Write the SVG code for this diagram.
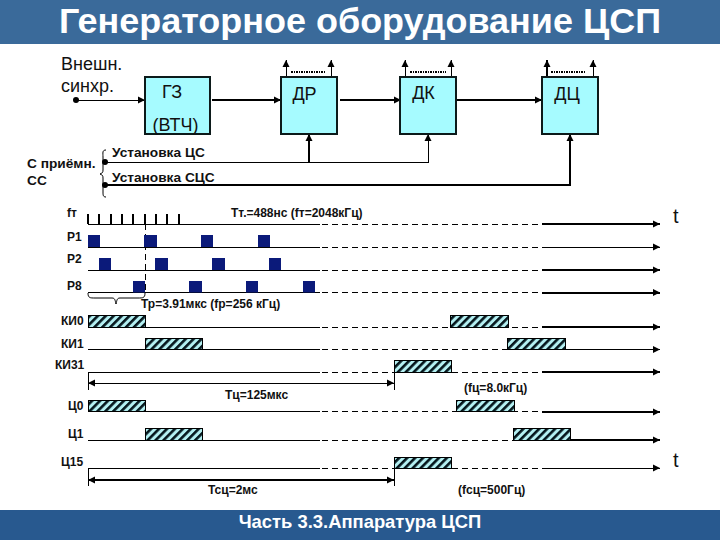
<svg xmlns="http://www.w3.org/2000/svg" width="720" height="540" viewBox="0 0 720 540">
<style>
.lb{font-family:"Liberation Sans",Arial,sans-serif;fill:#111;font-weight:bold;font-size:12px}
.lg{font-size:13.700px}
.big{font-family:"Liberation Sans",Arial,sans-serif;fill:#111;font-size:18px}
.box{fill:#a6fbff;stroke:#0c1a1a;stroke-width:2}
.thin{fill:none;stroke:#000;stroke-width:1;shape-rendering:crispEdges}
.thick{fill:none;stroke:#000;stroke-width:2;shape-rendering:crispEdges}
.med{fill:none;stroke:#000;stroke-width:2;shape-rendering:crispEdges}
.dash{fill:none;stroke:#000;stroke-width:1;stroke-dasharray:6 4;shape-rendering:crispEdges}
.pulse{fill:#0b1a7a}
.hatch{fill:url(#h);stroke:#000;stroke-width:1;shape-rendering:crispEdges}
.dots{fill:none;stroke:#000;stroke-width:2;stroke-dasharray:1.500 1;shape-rendering:crispEdges}
.curve{fill:none;stroke:#000;stroke-width:1}
</style>
<defs>
<marker id="a" markerUnits="userSpaceOnUse" markerWidth="8" markerHeight="8" refX="7" refY="4" orient="auto"><path d="M0 0.5L7 4L0 7.500z" fill="#000"/></marker>
<pattern id="h" patternUnits="userSpaceOnUse" width="5.600" height="5.600" patternTransform="rotate(45)"><rect width="5.600" height="5.600" fill="#b4f0f2"/><rect width="2.600" height="5.600" fill="#05161c"/></pattern>
</defs>
<rect width="720" height="44" fill="#3a6a9a"/>
<rect y="510" width="720" height="30" fill="#28598f"/>
<text x="360" y="33" text-anchor="middle" font-family="Liberation Sans, Arial, sans-serif" font-size="35" font-weight="bold" fill="#fff" id="title" textLength="602" lengthAdjust="spacingAndGlyphs">Генераторное оборудование ЦСП</text>
<text x="360" y="528" text-anchor="middle" font-family="Liberation Sans, Arial, sans-serif" font-size="18.400" font-weight="bold" fill="#fff" id="footer">Часть 3.3.Аппаратура ЦСП</text>
<g id="connectors">
<path class="thin" d="M76 100H145" marker-end="url(#a)"/>
<path class="thick" d="M212 100H281" marker-end="url(#a)"/>
<path class="thick" d="M340 100H401" marker-end="url(#a)"/>
<path class="thick" d="M457 100H542" marker-end="url(#a)"/>
<path class="thin" d="M105 162H428V134" marker-end="url(#a)"/>
<path class="med" d="M309 162V134" marker-end="url(#a)"/>
<path class="thick" d="M105 185H570V134" marker-end="url(#a)"/>
<g class="up">
<path class="thin" d="M286 76V60" marker-end="url(#a)"/><path class="thin" d="M331 76V60" marker-end="url(#a)"/>
<path class="thin" d="M405 76V60" marker-end="url(#a)"/><path class="thin" d="M451 76V60" marker-end="url(#a)"/>
<path class="med" d="M547 76V60" marker-end="url(#a)"/><path class="thin" d="M593 76V60" marker-end="url(#a)"/>
<path class="dots" d="M291 72H326M410 72H446M551 72H586"/>
</g>
<circle cx="76" cy="100" r="3" fill="#000"/><circle cx="105" cy="162" r="3" fill="#000"/><circle cx="105" cy="185" r="3" fill="#000"/>
<path class="curve" d="M106 150C102 150 103 153 103 157V170C103 173 102 173 100 174C102 175 103 175 103 178V192C103 195 103 197 106 197"/>
<path class="thin" d="M88 224H320M88 247H320M88 270H320M88 292.500H320M88 327H320M88 349.500H320M88 372H320M88 411H320M88 440H320M88 468H320"/>
<path class="dash" d="M322 224H542M322 247H542M322 270H542M322 292.500H542M322 327H542M322 349.500H507M322 372H542M322 411H542M322 440H542M322 468H542"/>
<path class="thick" d="M542 224H660" marker-end="url(#a)"/>
<path class="thin" d="M542 247H660" marker-end="url(#a)"/>
<path class="thick" d="M542 270H660" marker-end="url(#a)"/>
<path class="thick" d="M542 292.500H660" marker-end="url(#a)"/>
<path class="thick" d="M542 327H660" marker-end="url(#a)"/>
<path class="thin" d="M565 349.500H660" marker-end="url(#a)"/>
<path class="thick" d="M542 372H660" marker-end="url(#a)"/>
<path class="thick" d="M542 412H660" marker-end="url(#a)"/>
<path class="thick" d="M570 440H660" marker-end="url(#a)"/>
<path class="thin" d="M542 468H660" marker-end="url(#a)"/>
<path class="thin" d="M88 214V224M99 214V224M111 214V224M122 214V224M133 214V224M145 214V224M156 214V224M167 214V224M179 214V224" style="stroke-width:1.500"/>
<path class="dash" d="M145 224V292"/>
<path class="curve" d="M88 293C88 298 90 298 95 298H112C115 298 115 300 116 304C117 300 117 298 120 298H138C143 298 145 298 145 293"/>
<path class="thin" d="M88 372V390M394 372V390M88 468V486M394 468V486"/>
<path class="thin" d="M394 383H88" marker-end="url(#a)"/>
<path class="thin" d="M88 383H394" marker-end="url(#a)"/>
<path class="thick" d="M394 480H88" marker-end="url(#a)"/>
<path class="thick" d="M88 480H394" marker-end="url(#a)"/>
</g>
<g id="gz"><rect class="box" x="145" y="77" width="65" height="57"/><text class="big" x="172" y="98" text-anchor="middle">ГЗ</text><text class="big" x="175.500" y="131" text-anchor="middle">(ВТЧ)</text></g>
<g id="dr"><rect class="box" x="281" y="77" width="56" height="57"/><text class="big" x="304.500" y="100" text-anchor="middle">ДР</text></g>
<g id="dk"><rect class="box" x="400" y="77" width="56" height="57"/><text class="big" x="423.500" y="99" text-anchor="middle">ДК</text></g>
<g id="dc"><rect class="box" x="542" y="77" width="56" height="57"/><text class="big" x="567" y="100" text-anchor="middle">ДЦ</text></g>
<g id="pulses">
<rect class="pulse" x="88" y="235" width="12" height="12"/><rect class="pulse" x="144" y="235" width="13" height="12"/><rect class="pulse" x="201" y="235" width="12" height="12"/><rect class="pulse" x="258" y="235" width="12" height="12"/>
<rect class="pulse" x="99" y="258" width="12" height="12"/><rect class="pulse" x="155" y="258" width="13" height="12"/><rect class="pulse" x="212" y="258" width="13" height="12"/><rect class="pulse" x="269" y="258" width="12" height="12"/>
<rect class="pulse" x="133" y="281" width="12" height="11.500"/><rect class="pulse" x="189" y="281" width="13" height="11.500"/><rect class="pulse" x="246" y="281" width="12" height="11.500"/><rect class="pulse" x="303" y="281" width="12" height="11.500"/>
</g>
<g id="slots">
<rect class="hatch" x="88" y="315" width="57" height="12"/><rect class="hatch" x="450" y="315" width="58" height="12"/>
<rect class="hatch" x="145" y="338" width="57" height="11.500"/><rect class="hatch" x="507" y="338" width="58" height="11.500"/>
<rect class="hatch" x="394" y="360" width="57" height="12"/>
<rect class="hatch" x="88" y="400.500" width="57" height="10.500"/><rect class="hatch" x="456" y="400.500" width="58" height="10.500"/>
<rect class="hatch" x="145" y="428" width="57" height="12"/><rect class="hatch" x="513" y="428" width="57" height="12"/>
<rect class="hatch" x="394" y="457.500" width="57" height="10.500"/>
</g>
<g id="labels">
<text x="61" y="70" font-family="Liberation Sans, Arial, sans-serif" font-size="18" fill="#111">Внешн.</text>
<text x="61" y="92" font-family="Liberation Sans, Arial, sans-serif" font-size="18" fill="#111">синхр.</text>
<text class="lb lg" x="27" y="168">С приёмн.</text><text class="lb lg" x="27" y="185">СС</text>
<text class="lb lg" x="112" y="157">Установка ЦС</text><text class="lb lg" x="112" y="182">Установка СЦС</text>
<text class="lb" x="67" y="217">fт</text><text class="lb" x="67" y="241">Р1</text><text class="lb" x="67" y="263">Р2</text><text class="lb" x="67" y="290">Р8</text>
<text class="lb" x="61" y="325">КИ0</text><text class="lb" x="61" y="348">КИ1</text><text class="lb" x="55" y="369">КИ31</text>
<text class="lb" x="68" y="410">Ц0</text><text class="lb" x="68" y="438">Ц1</text><text class="lb" x="61" y="466">Ц15</text>
<text class="lb" x="231" y="217">Тт.=488нс (fт=2048кГц)</text>
<text class="lb" x="141" y="308">Тр=3.91мкс (fр=256 кГц)</text>
<text class="lb" x="225" y="399">Тц=125мкс</text>
<text class="lb" x="464" y="392">(fц=8.0кГц)</text>
<text class="lb" x="208" y="494">Тсц=2мс</text>
<text class="lb" x="458" y="494">(fсц=500Гц)</text>
<text x="673" y="223" font-family="Liberation Sans, Arial, sans-serif" font-size="20" fill="#111">t</text>
<text x="673" y="467" font-family="Liberation Sans, Arial, sans-serif" font-size="20" fill="#111">t</text>
</g>
</svg>
